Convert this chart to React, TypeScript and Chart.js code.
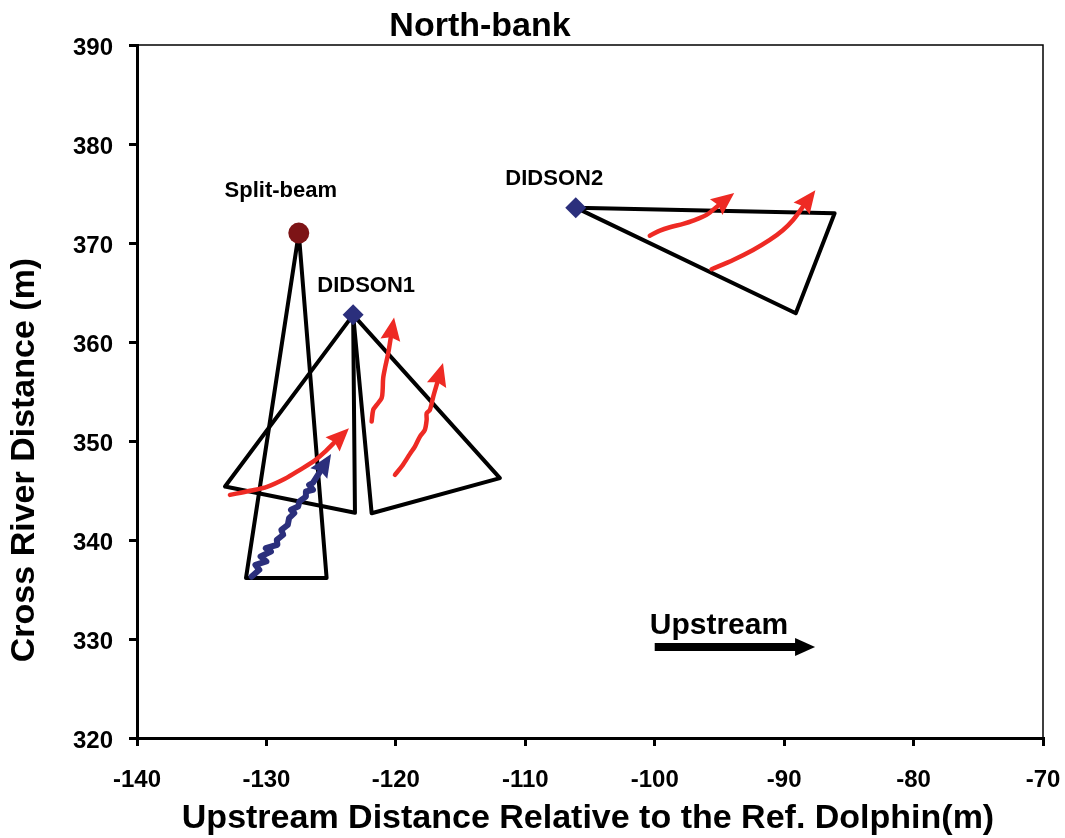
import React, { useEffect, useRef } from 'react';
import { Chart, registerables } from 'chart.js';

Chart.register(...registerables);

// ---- axis ticks ----
const xTicks = [-140, -130, -120, -110, -100, -90, -80, -70];
const yTicks = [320, 330, 340, 350, 360, 370, 380, 390];

// ---- sensors ----
const splitBeam = [{ x: -127.5, y: 371.0 }];
const didson1 = [{ x: -123.3, y: 362.74 }];
const didson2 = [{ x: -106.1, y: 373.57 }];

// ---- beam outlines ----
const splitBeamBeam = [
  { x: -127.5, y: 371.0 }, { x: -131.58, y: 336.15 }, { x: -125.35, y: 336.15 }, { x: -127.5, y: 371.0 },
];
const didson1BeamLeft = [
  { x: -123.3, y: 362.74 }, { x: -133.2, y: 345.4 }, { x: -123.16, y: 342.75 }, { x: -123.3, y: 362.74 },
];
const didson1BeamRight = [
  { x: -123.3, y: 362.74 }, { x: -121.87, y: 342.7 }, { x: -111.96, y: 346.25 }, { x: -123.3, y: 362.74 },
];
const didson2Beam = [
  { x: -106.1, y: 373.57 }, { x: -86.1, y: 373.0 }, { x: -89.1, y: 362.9 }, { x: -106.1, y: 373.57 },
];

// ---- fish tracks (DIDSON, red) ----
const trackA = [
  { x: -132.82, y: 344.56 }, { x: -131.27, y: 344.97 }, { x: -129.96, y: 345.37 }, { x: -128.57, y: 346.18 },
  { x: -127.41, y: 347.09 }, { x: -126.2, y: 348.1 }, { x: -125.4, y: 349.01 }, { x: -124.78, y: 349.81 },
];
const trackB = [
  { x: -121.87, y: 351.97 }, { x: -121.75, y: 353.15 }, { x: -121.54, y: 353.55 }, { x: -121.1, y: 354.33 },
  { x: -121.02, y: 355.17 }, { x: -120.98, y: 356.35 }, { x: -120.84, y: 357.36 }, { x: -120.59, y: 358.87 },
  { x: -120.4, y: 360.39 },
];
const trackC = [
  { x: -120.07, y: 346.58 }, { x: -119.55, y: 347.42 }, { x: -118.91, y: 348.7 }, { x: -118.53, y: 349.44 },
  { x: -118.14, y: 350.45 }, { x: -117.76, y: 351.13 }, { x: -117.62, y: 352.14 }, { x: -117.62, y: 352.81 },
  { x: -117.37, y: 353.15 }, { x: -117.11, y: 354.49 }, { x: -116.81, y: 355.84 },
];
const trackD = [
  { x: -100.38, y: 370.74 }, { x: -99.6, y: 371.25 }, { x: -98.83, y: 371.59 }, { x: -97.8, y: 371.93 },
  { x: -97.03, y: 372.26 }, { x: -96.0, y: 372.84 }, { x: -95.13, y: 373.74 },
];
const trackE = [
  { x: -95.61, y: 367.35 }, { x: -93.94, y: 368.29 }, { x: -92.4, y: 369.3 }, { x: -91.11, y: 370.31 },
  { x: -90.08, y: 371.32 }, { x: -89.31, y: 372.33 }, { x: -88.56, y: 373.64 },
];

// ---- split-beam track (blue) ----
const splitBeamTrack = [
  { x: -131.14, y: 336.31 }, { x: -130.55, y: 336.99 }, { x: -130.85, y: 337.49 }, { x: -130.0, y: 337.83 },
  { x: -130.45, y: 338.33 }, { x: -129.65, y: 338.84 }, { x: -130.05, y: 339.18 }, { x: -129.15, y: 339.52 },
  { x: -129.2, y: 340.02 }, { x: -128.7, y: 340.53 }, { x: -128.85, y: 341.03 }, { x: -128.35, y: 341.53 },
  { x: -128.25, y: 342.21 }, { x: -127.85, y: 342.72 }, { x: -128.1, y: 343.05 }, { x: -127.55, y: 343.38 },
  { x: -127.45, y: 343.89 }, { x: -126.95, y: 344.39 }, { x: -126.95, y: 344.9 }, { x: -126.4, y: 345.07 },
  { x: -126.7, y: 345.57 }, { x: -126.41, y: 345.77 }, { x: -125.87, y: 346.89 },
];

// ---- "Upstream" direction arrow ----
const upstreamArrow = [{ x: -100.0, y: 329.2 }, { x: -89.0, y: 329.2 }];

const RED = '#EE2A24';
const BLUE = '#2B2F7C';
const FONT = '"Liberation Sans", Arial, Helvetica, sans-serif';

const arrowPlugin = {
  id: 'arrowHeads',
  afterDatasetsDraw(chart: any) {
    const ctx = chart.ctx;
    chart.data.datasets.forEach((ds: any, i: number) => {
      if (!ds.arrowHead) return;
      const meta = chart.getDatasetMeta(i);
      const pts = meta.data;
      const n = pts.length;
      if (n < 2) return;
      const a = pts[n - 2];
      const b = pts[n - 1];
      const dx = b.x - a.x;
      const dy = b.y - a.y;
      const len = Math.hypot(dx, dy) || 1;
      const ux = dx / len;
      const uy = dy / len;
      const L = ds.arrowHead.len;
      const H = ds.arrowHead.half;
      const notch = ds.arrowHead.notch || 0;
      const bx = b.x - ux * 2;
      const by = b.y - uy * 2;
      ctx.save();
      ctx.fillStyle = ds.borderColor;
      ctx.beginPath();
      ctx.moveTo(b.x + ux * L, b.y + uy * L);
      ctx.lineTo(bx - uy * H, by + ux * H);
      ctx.lineTo(bx + ux * notch, by + uy * notch);
      ctx.lineTo(bx + uy * H, by - ux * H);
      ctx.closePath();
      ctx.fill();
      ctx.restore();
    });
  },
};

const textPlugin = {
  id: 'texts',
  afterDraw(chart: any) {
    const { ctx, chartArea } = chart;
    const xs = chart.scales.x;
    const ys = chart.scales.y;
    ctx.save();
    // thin frame on top and right
    ctx.strokeStyle = '#000';
    ctx.lineWidth = 1.5;
    ctx.beginPath();
    ctx.moveTo(chartArea.left, chartArea.top);
    ctx.lineTo(chartArea.right, chartArea.top);
    ctx.lineTo(chartArea.right, chartArea.bottom);
    ctx.stroke();

    ctx.fillStyle = '#000';
    // tick labels
    ctx.font = `bold 24px ${FONT}`;
    ctx.textAlign = 'right';
    ctx.textBaseline = 'alphabetic';
    yTicks.forEach((v) => {
      ctx.fillText(String(v), chartArea.left - 24, ys.getPixelForValue(v) + 10);
    });
    ctx.textAlign = 'center';
    xTicks.forEach((v) => {
      ctx.fillText(String(v), xs.getPixelForValue(v), chartArea.bottom + 48.5);
    });

    // chart title
    ctx.font = `bold 34px ${FONT}`;
    ctx.fillText('North-bank', 480, 36);
    // x axis title
    ctx.fillText('Upstream Distance Relative to the Ref. Dolphin(m)', 588, 828);
    // y axis title
    ctx.save();
    ctx.translate(34, 460);
    ctx.rotate(-Math.PI / 2);
    ctx.fillText('Cross River Distance (m)', 0, 0);
    ctx.restore();

    // sensor labels relative to markers
    ctx.font = `bold 22px ${FONT}`;
    const lab = (dsIndex: number, text: string, dx: number, dy: number) => {
      const p = chart.getDatasetMeta(dsIndex).data[0];
      ctx.fillText(text, p.x + dx, p.y + dy);
    };
    lab(0, 'Split-beam', -18, -36);
    lab(1, 'DIDSON1', 13, -23);
    lab(2, 'DIDSON2', -21.5, -23);

    // "Upstream" label above its arrow
    const up = chart.getDatasetMeta(3).data[0];
    ctx.font = `bold 30px ${FONT}`;
    ctx.textAlign = 'left';
    ctx.fillText('Upstream', up.x - 5, up.y - 13);
    ctx.restore();
  },
};

export default function App() {
  const canvasRef = useRef<HTMLCanvasElement | null>(null);

  useEffect(() => {
    if (!canvasRef.current) return;
    const lineDs = (data: any[], color: string, width: number, extra: any = {}) => ({
      data,
      showLine: true,
      borderColor: color,
      backgroundColor: color,
      borderWidth: width,
      pointRadius: 0,
      pointHoverRadius: 0,
      borderCapStyle: 'round',
      borderJoinStyle: 'round',
      tension: 0,
      ...extra,
    });
    const chart = new Chart(canvasRef.current, {
      type: 'scatter',
      data: {
        datasets: [
          {
            data: splitBeam,
            pointStyle: 'circle',
            pointRadius: 10.5,
            backgroundColor: '#7D1416',
            borderColor: '#7D1416',
            borderWidth: 0,
          } as any,
          {
            data: didson1,
            pointStyle: 'rectRot',
            pointRadius: 10.5,
            backgroundColor: BLUE,
            borderColor: BLUE,
            borderWidth: 0,
          } as any,
          {
            data: didson2,
            pointStyle: 'rectRot',
            pointRadius: 10.5,
            backgroundColor: BLUE,
            borderColor: BLUE,
            borderWidth: 0,
          } as any,
          lineDs(upstreamArrow, '#000', 8, { borderCapStyle: 'butt', arrowHead: { len: 18, half: 9 } }),
          lineDs(splitBeamTrack, BLUE, 6, { arrowHead: { len: 21, half: 10, notch: 3 } }),
          lineDs(trackA, RED, 4.5, { tension: 0.3, arrowHead: { len: 21, half: 10, notch: 3 } }),
          lineDs(trackB, RED, 4.5, { tension: 0.3, arrowHead: { len: 21, half: 10, notch: 3 } }),
          lineDs(trackC, RED, 4.5, { tension: 0.3, arrowHead: { len: 21, half: 10, notch: 3 } }),
          lineDs(trackD, RED, 4.5, { tension: 0.3, arrowHead: { len: 21, half: 10, notch: 3 } }),
          lineDs(trackE, RED, 4.5, { tension: 0.3, arrowHead: { len: 21, half: 10, notch: 3 } }),
          lineDs(splitBeamBeam, '#000', 4),
          lineDs(didson1BeamLeft, '#000', 4),
          lineDs(didson1BeamRight, '#000', 4),
          lineDs(didson2Beam, '#000', 4),
        ] as any,
      },
      options: {
        animation: false,
        responsive: true,
        maintainAspectRatio: false,
        layout: { padding: { left: 129, top: 45, right: 22, bottom: 92 } },
        plugins: {
          legend: { display: false },
          tooltip: { enabled: false },
          title: { display: false },
        },
        events: [],
        scales: {
          x: {
            type: 'linear',
            min: -140,
            max: -70,
            ticks: { stepSize: 10, display: false },
            grid: {
              display: true,
              drawOnChartArea: false,
              drawTicks: true,
              tickLength: 8,
              tickWidth: 3,
              tickColor: '#000',
              lineWidth: 3,
              color: '#000',
            },
            border: { display: true, color: '#000', width: 3 },
            afterFit: (s: any) => {
              s.height = 8;
            },
          },
          y: {
            type: 'linear',
            min: 320,
            max: 390,
            ticks: { stepSize: 10, display: false },
            grid: {
              display: true,
              drawOnChartArea: false,
              drawTicks: true,
              tickLength: 8,
              tickWidth: 3,
              tickColor: '#000',
              lineWidth: 3,
              color: '#000',
            },
            border: { display: true, color: '#000', width: 3 },
            afterFit: (s: any) => {
              s.width = 8;
            },
          },
        },
      } as any,
      plugins: [arrowPlugin, textPlugin],
    });
    return () => chart.destroy();
  }, []);

  return (
    <div style={{ position: 'absolute', left: 0, top: 0, width: 1065, height: 838, background: '#fff' }}>
      <canvas ref={canvasRef} />
    </div>
  );
}
